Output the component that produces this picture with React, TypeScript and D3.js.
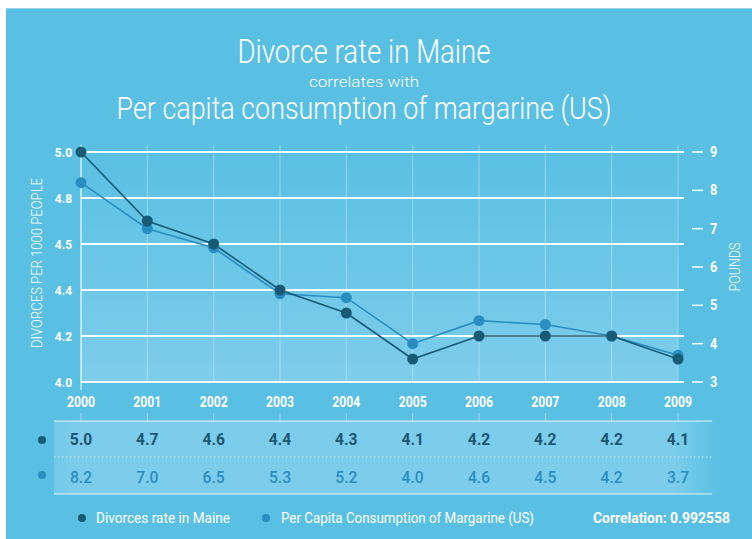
import React from "react";
import * as d3 from "d3";

const years = [2000, 2001, 2002, 2003, 2004, 2005, 2006, 2007, 2008, 2009];
const divorce = [5.0, 4.7, 4.6, 4.4, 4.3, 4.1, 4.2, 4.2, 4.2, 4.1];
const margarine = [8.2, 7.0, 6.5, 5.3, 5.2, 4.0, 4.6, 4.5, 4.2, 3.7];
const leftTicks = [4.0, 4.2, 4.4, 4.6, 4.8, 5.0];
const leftTickLabels = ["4.0", "4.2", "4.4", "4.5", "4.8", "5.0"];
const rightTicks = [3, 4, 5, 6, 7, 8, 9];

const FONT = "Roboto, 'Liberation Sans', sans-serif";
const BG = "#5ac0e3";
const DARK = "#165a76";
const MID = "#2a8dc0";
const ROW1 = "#1c5670";
const ROW2 = "#2a8cbf";

const W = 752;
const H = 539;
const plot = { left: 81, right: 678, top: 152, bottom: 382 };

function T(props: any) {
  const { x, y, sx = 1, anchor = "start", children, ...rest } = props;
  return (
    <text
      transform={`translate(${x},${y}) scale(${sx},1)`}
      textAnchor={anchor}
      fontFamily={FONT}
      {...rest}
    >
      {children}
    </text>
  );
}

export default function App() {
  const x = d3.scaleLinear().domain([2000, 2009]).range([plot.left, plot.right]);
  const yL = d3.scaleLinear().domain([4, 5]).range([plot.bottom, plot.top]);
  const yR = d3.scaleLinear().domain([3, 9]).range([plot.bottom, plot.top]);

  const lineL = d3
    .line<number>()
    .x((_, i) => x(years[i]))
    .y((d) => yL(d));
  const lineR = d3
    .line<number>()
    .x((_, i) => x(years[i]))
    .y((d) => yR(d));

  return (
    <svg
      width={W}
      height={H}
      style={{ position: "absolute", left: 0, top: 0, display: "block" }}
    >
      <defs>
        <linearGradient id="plotGrad" x1="0" y1="0" x2="0" y2="1">
          <stop offset="0" stopColor="#5ac0e3" />
          <stop offset="1" stopColor="#7ecdeb" />
        </linearGradient>
        <linearGradient id="tableGrad" x1="0" y1="0" x2="1" y2="0">
          <stop offset="0" stopColor="#7ccdeb" stopOpacity="0.7" />
          <stop offset="0.03" stopColor="#7ccdeb" stopOpacity="1" />
          <stop offset="0.93" stopColor="#7ccdeb" stopOpacity="1" />
          <stop offset="1" stopColor="#7ccdeb" stopOpacity="0" />
        </linearGradient>
      </defs>
      <rect x={0} y={0} width={W} height={H} fill="#ffffff" />
      <rect x={6} y={8} width={W - 6} height={H - 8} fill={BG} />
      <line x1={6} x2={W} y1={8.5} y2={8.5} stroke="#9ad7ee" strokeWidth={1} />

      {/* Titles */}
      <T x={364} y={63} anchor="middle" fontSize={33} fontWeight={300} fill="#fff" textLength={253} lengthAdjust="spacingAndGlyphs">
        Divorce rate in Maine
      </T>
      <T x={364} y={87} anchor="middle" fontSize={15} fontWeight={300} fill="#fff" textLength={110} lengthAdjust="spacingAndGlyphs">
        correlates with
      </T>
      <T x={364} y={119} anchor="middle" fontSize={31} fontWeight={300} fill="#fff" textLength={495} lengthAdjust="spacingAndGlyphs">
        Per capita consumption of margarine (US)
      </T>

      {/* plot background */}
      <rect
        x={plot.left}
        y={plot.top}
        width={plot.right - plot.left}
        height={plot.bottom - plot.top}
        fill="url(#plotGrad)"
      />

      {/* vertical gridlines */}
      {years.map((yr) => (
        <line
          key={"v" + yr}
          x1={x(yr)}
          x2={x(yr)}
          y1={145}
          y2={plot.bottom}
          stroke="#ffffff"
          strokeOpacity={0.35}
          strokeWidth={1}
        />
      ))}
      {/* left axis line */}
      <line x1={plot.left} x2={plot.left} y1={145} y2={390} stroke="#ffffff" strokeOpacity={0.8} strokeWidth={1.2} />

      {/* horizontal gridlines */}
      {leftTicks.map((t) => (
        <line
          key={"h" + t}
          x1={plot.left}
          x2={684}
          y1={yL(t)}
          y2={yL(t)}
          stroke="#ffffff"
          strokeWidth={1.8}
          strokeOpacity={0.95}
        />
      ))}

      {/* left tick labels */}
      {leftTicks.map((t, i) => (
        <T key={"lt" + t} x={72} y={yL(t) + 4.5} anchor="end" sx={0.92} fontSize={13} fontWeight={700} fill="#fff">
          {leftTickLabels[i]}
        </T>
      ))}
      <T
        x={0}
        y={0}
        anchor="middle"
        fontSize={14}
        fontWeight={300}
        fill="#fff"
        textLength={170}
        lengthAdjust="spacingAndGlyphs"
        transform="translate(42,263) rotate(-90)"
      >
        DIVORCES PER 1000 PEOPLE
      </T>

      {/* right ticks */}
      {rightTicks.map((t) => (
        <g key={"rt" + t}>
          <line x1={692} x2={703} y1={yR(t)} y2={yR(t)} stroke="#fff" strokeWidth={1.5} />
          <T x={710} y={yR(t) + 5} sx={0.9} fontSize={14} fontWeight={700} fill="#fff">
            {t}
          </T>
        </g>
      ))}
      <text
        transform="translate(740,267) rotate(-90)"
        textAnchor="middle"
        fontFamily={FONT}
        fontSize={14}
        fontWeight={300}
        fill="#fff"
        textLength={49}
        lengthAdjust="spacingAndGlyphs"
      >
        POUNDS
      </text>

      {/* series lines */}
      <path d={lineR(margarine) || ""} fill="none" stroke={MID} strokeWidth={1.6} />
      <path d={lineL(divorce) || ""} fill="none" stroke={DARK} strokeWidth={1.6} />
      {margarine.map((v, i) => (
        <circle key={"m" + i} cx={x(years[i])} cy={yR(v)} r={5.5} fill={MID} />
      ))}
      {divorce.map((v, i) => (
        <circle key={"d" + i} cx={x(years[i])} cy={yL(v)} r={5.5} fill={DARK} />
      ))}

      {/* x labels */}
      {years.map((yr) => (
        <g key={"xl" + yr}>
          <T x={x(yr)} y={407} anchor="middle" sx={0.87} fontSize={14} fontWeight={700} fill="#fff">
            {yr}
          </T>
          <line x1={x(yr)} x2={x(yr)} y1={413} y2={421} stroke="#fff" strokeOpacity={0.4} strokeWidth={1} />
        </g>
      ))}

      {/* table */}
      <rect x={54} y={421} width={666} height={73} fill="url(#tableGrad)" />
      <line x1={54} x2={712} y1={421} y2={421} stroke="#fff" strokeOpacity={0.55} strokeWidth={1.5} />
      <line x1={54} x2={712} y1={494} y2={494} stroke="#fff" strokeOpacity={0.55} strokeWidth={1.5} />
      <line x1={54} x2={712} y1={457} y2={457} stroke="#fff" strokeOpacity={0.6} strokeWidth={1} strokeDasharray="1.5,2.5" />
      <circle cx={42} cy={440} r={4} fill={DARK} />
      <circle cx={42} cy={475} r={4} fill={MID} />
      {divorce.map((v, i) => (
        <T key={"r1" + i} x={x(years[i])} y={445} anchor="middle" sx={0.92} fontSize={17} fontWeight={700} fill={ROW1}>
          {v.toFixed(1)}
        </T>
      ))}
      {margarine.map((v, i) => (
        <T key={"r2" + i} x={x(years[i])} y={483} anchor="middle" sx={0.92} fontSize={17} fontWeight={500} fill={ROW2}>
          {v.toFixed(1)}
        </T>
      ))}

      {/* legend */}
      <circle cx={82} cy={518} r={4} fill={DARK} />
      <T x={96} y={523} fontSize={15} fontWeight={400} fill="#fff" textLength={134} lengthAdjust="spacingAndGlyphs">
        Divorces rate in Maine
      </T>
      <circle cx={266} cy={518} r={4} fill={MID} />
      <T x={281} y={523} fontSize={15} fontWeight={400} fill="#fff" textLength={253} lengthAdjust="spacingAndGlyphs">
        Per Capita Consumption of Margarine (US)
      </T>
      <T x={593} y={523} fontSize={15} fontWeight={700} fill="#fff" textLength={137} lengthAdjust="spacingAndGlyphs">
        Correlation: 0.992558
      </T>
    </svg>
  );
}
